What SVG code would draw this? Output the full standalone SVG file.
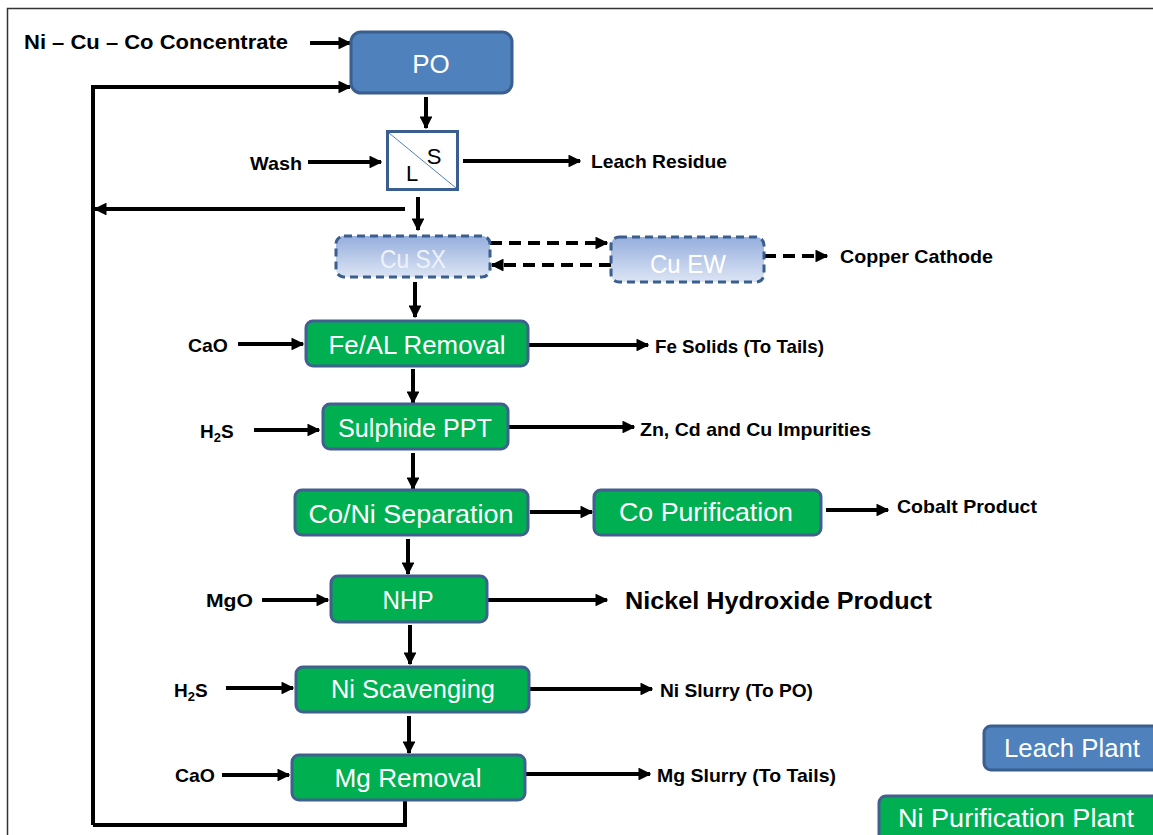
<svg xmlns="http://www.w3.org/2000/svg" width="1153" height="835" viewBox="0 0 1153 835">
<defs>
<marker id="ah" viewBox="0 0 10 10" refX="9" refY="5" markerWidth="3.2" markerHeight="3.2" orient="auto" markerUnits="strokeWidth"><path d="M0,0 L10,5 L0,10 z" fill="#000"/></marker>
<linearGradient id="cu" x1="0" y1="0" x2="0" y2="1"><stop offset="0" stop-color="#95AEDD"/><stop offset="1" stop-color="#DCE5F4"/></linearGradient>
<style>
.lbl{font-family:"Liberation Sans",Arial,sans-serif;font-weight:bold;font-size:19px;fill:#000}
.big{font-size:24px}
.nt{font-family:"Liberation Sans",Arial,sans-serif;font-size:26px;fill:#fff;text-anchor:middle}
.blue{fill:#4F81BD;stroke:#3A5F8E;stroke-width:3}
.green{fill:#00B050;stroke:#41608F;stroke-width:3}
.dash{fill:url(#cu);stroke:#3A5F8E;stroke-width:3;stroke-dasharray:8,5}
.c{fill:none;stroke:#000;stroke-width:4}
.ca{fill:none;stroke:#000;stroke-width:4;marker-end:url(#ah)}
.cd{fill:none;stroke:#000;stroke-width:4;stroke-dasharray:12,7;marker-end:url(#ah)}
</style>
</defs>
<rect x="0" y="0" width="1153" height="835" fill="#fff"/>
<rect x="7.5" y="8.5" width="1160" height="840" fill="none" stroke="#333" stroke-width="1.5"/>

<g id="connectors">
<path class="ca" d="M310,43 H350"/>
<path class="ca" d="M93,825 V87 H350"/>
<path class="c" d="M93,825 H405 V800"/>
<path class="ca" d="M426,97 V128"/>
<path class="ca" d="M308,162 H381"/>
<path class="ca" d="M463,161 H580"/>
<path class="ca" d="M418,197 V230"/>
<path class="ca" d="M405,209 H95"/>
<path class="cd" d="M490,243 H607"/>
<path class="cd" d="M611,265 H492"/>
<path class="cd" d="M764,256 H827"/>
<path class="ca" d="M415,282 V317"/>
<path class="ca" d="M238,344 H303"/>
<path class="ca" d="M528,345 H648"/>
<path class="ca" d="M413,369 V403"/>
<path class="ca" d="M254,430 H319"/>
<path class="ca" d="M508,427 H634"/>
<path class="ca" d="M413,453 V489"/>
<path class="ca" d="M530,512 H592"/>
<path class="ca" d="M826,510 H888"/>
<path class="ca" d="M408,539 V574"/>
<path class="ca" d="M262,600 H328"/>
<path class="ca" d="M488,600 H607"/>
<path class="ca" d="M410,625 V664"/>
<path class="ca" d="M226,688 H293"/>
<path class="ca" d="M530,689 H652"/>
<path class="ca" d="M409,716 V753"/>
<path class="ca" d="M222,775 H289"/>
<path class="ca" d="M525,774 H650"/>
</g>

<g id="labels">
<text class="lbl" x="24" y="49" style="font-size:20px" textLength="264" lengthAdjust="spacingAndGlyphs">Ni – Cu – Co Concentrate</text>
<text class="lbl" x="250" y="170" textLength="52" lengthAdjust="spacingAndGlyphs">Wash</text>
<text class="lbl" x="591" y="168" textLength="136" lengthAdjust="spacingAndGlyphs">Leach Residue</text>
<text class="lbl" x="840" y="263" textLength="153" lengthAdjust="spacingAndGlyphs">Copper Cathode</text>
<text class="lbl" x="188" y="352" textLength="40" lengthAdjust="spacingAndGlyphs">CaO</text>
<text class="lbl" x="655" y="353" textLength="169" lengthAdjust="spacingAndGlyphs">Fe Solids (To Tails)</text>
<text class="lbl" x="200" y="438">H<tspan font-size="13" dy="4">2</tspan><tspan dy="-4">S</tspan></text>
<text class="lbl" x="640" y="436" textLength="231" lengthAdjust="spacingAndGlyphs">Zn, Cd and Cu Impurities</text>
<text class="lbl" x="897" y="513" textLength="140" lengthAdjust="spacingAndGlyphs">Cobalt Product</text>
<text class="lbl" x="206" y="607" textLength="47" lengthAdjust="spacingAndGlyphs">MgO</text>
<text class="lbl big" x="625" y="609" textLength="307" lengthAdjust="spacingAndGlyphs">Nickel Hydroxide Product</text>
<text class="lbl" x="174" y="697">H<tspan font-size="13" dy="4">2</tspan><tspan dy="-4">S</tspan></text>
<text class="lbl" x="660" y="697" textLength="153" lengthAdjust="spacingAndGlyphs">Ni Slurry (To PO)</text>
<text class="lbl" x="175" y="782" textLength="40" lengthAdjust="spacingAndGlyphs">CaO</text>
<text class="lbl" x="657" y="782" textLength="179" lengthAdjust="spacingAndGlyphs">Mg Slurry (To Tails)</text>
</g>

<g id="PO"><rect class="blue" x="351" y="32" width="161" height="61" rx="10"/><text class="nt" x="431" y="73">PO</text></g>
<g id="LS"><rect x="387.5" y="131.5" width="70" height="58" fill="#fff" stroke="#3A5F8E" stroke-width="3"/><line x1="389" y1="133" x2="456" y2="188" stroke="#4F81BD" stroke-width="1"/><text x="434" y="164" font-family="Liberation Sans,Arial,sans-serif" font-size="22" fill="#000" text-anchor="middle">S</text><text x="412" y="181" font-family="Liberation Sans,Arial,sans-serif" font-size="22" fill="#000" text-anchor="middle">L</text></g>
<g id="CuSX"><rect class="dash" x="336" y="236" width="154" height="41" rx="8"/><text class="nt" x="413" y="268" style="fill:#EEF2FA" textLength="66" lengthAdjust="spacingAndGlyphs">Cu SX</text></g>
<g id="CuEW"><rect class="dash" x="611" y="237" width="153" height="45" rx="8"/><text class="nt" x="688" y="273" textLength="76" lengthAdjust="spacingAndGlyphs">Cu EW</text></g>
<g id="FeAL"><rect class="green" x="306" y="321" width="222" height="45" rx="7"/><text class="nt" x="417" y="354" textLength="177" lengthAdjust="spacingAndGlyphs">Fe/AL Removal</text></g>
<g id="Sulphide"><rect class="green" x="323" y="404" width="185" height="45" rx="7"/><text class="nt" x="415" y="437" textLength="154" lengthAdjust="spacingAndGlyphs">Sulphide PPT</text></g>
<g id="CoNi"><rect class="green" x="295" y="490" width="233" height="45" rx="7"/><text class="nt" x="411" y="523" textLength="205" lengthAdjust="spacingAndGlyphs">Co/Ni Separation</text></g>
<g id="CoPur"><rect class="green" x="594" y="490" width="227" height="45" rx="7"/><text class="nt" x="706" y="521" textLength="174" lengthAdjust="spacingAndGlyphs">Co Purification</text></g>
<g id="NHP"><rect class="green" x="331" y="576" width="156" height="46" rx="7"/><text class="nt" x="408" y="609" textLength="51" lengthAdjust="spacingAndGlyphs">NHP</text></g>
<g id="NiScav"><rect class="green" x="296" y="667" width="233" height="45" rx="7"/><text class="nt" x="413" y="698" textLength="164" lengthAdjust="spacingAndGlyphs">Ni Scavenging</text></g>
<g id="MgRem"><rect class="green" x="292" y="755" width="233" height="45" rx="7"/><text class="nt" x="408" y="787" textLength="147" lengthAdjust="spacingAndGlyphs">Mg Removal</text></g>
<g id="legendLeach"><rect class="blue" x="984" y="726" width="185" height="44" rx="7"/><text class="nt" x="1072" y="757" textLength="136" lengthAdjust="spacingAndGlyphs">Leach Plant</text></g>
<g id="legendNi"><rect class="green" x="879" y="796" width="290" height="50" rx="7"/><text class="nt" x="1016" y="827" textLength="236" lengthAdjust="spacingAndGlyphs">Ni Purification Plant</text></g>
</svg>
